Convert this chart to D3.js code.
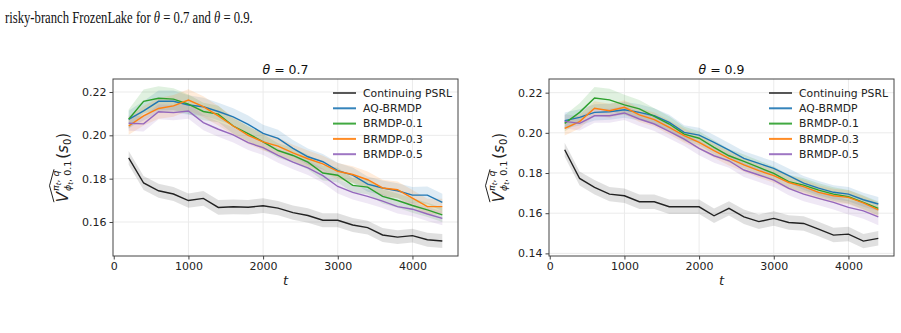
<!DOCTYPE html>
<html>
<head>
<meta charset="utf-8">
<script src="https://cdn.jsdelivr.net/npm/d3@7"></script>
<style>
  body { margin: 0; background: #fff; }
  svg { display: block; }
  .tick text { font-family: "DejaVu Sans", sans-serif; font-size: 11px; fill: #222; }
</style>
</head>
<body>
<svg width="901" height="333"></svg>
<script>
const tValues = [200, 400, 600, 800, 1000, 1200, 1400, 1600, 1800, 2000, 2200,
                 2400, 2600, 2800, 3000, 3200, 3400, 3600, 3800, 4000, 4200, 4400];

const seriesNames = ['Continuing PSRL', 'AQ-BRMDP', 'BRMDP-0.1', 'BRMDP-0.3', 'BRMDP-0.5'];
const seriesColors = ['#222222', '#1f77b4', '#2ca02c', '#ff7f0e', '#9467bd'];

// theta = 0.7
const psrl07 = [0.1896, 0.1780, 0.1744, 0.1729, 0.1699, 0.1709, 0.1667, 0.1670, 0.1668, 0.1675, 0.1664,
                0.1643, 0.1630, 0.1608, 0.1608, 0.1586, 0.1574, 0.1540, 0.1530, 0.1537, 0.1518, 0.1512];
const aq07 = [0.2074, 0.2113, 0.2157, 0.2157, 0.2140, 0.2132, 0.2110, 0.2085, 0.2051, 0.2009, 0.1986,
              0.1940, 0.1901, 0.1878, 0.1837, 0.1816, 0.1775, 0.1757, 0.1744, 0.1724, 0.1724, 0.1690];
const b01_07 = [0.2074, 0.2157, 0.2171, 0.2167, 0.2144, 0.2110, 0.2098, 0.2043, 0.2008, 0.1970, 0.1930,
                0.1907, 0.1876, 0.1826, 0.1816, 0.1769, 0.1761, 0.1718, 0.1699, 0.1676, 0.1656, 0.1633];
const b03_07 = [0.2043, 0.2090, 0.2124, 0.2136, 0.2163, 0.2132, 0.2090, 0.2043, 0.2000, 0.1970, 0.1950,
                0.1919, 0.1892, 0.1868, 0.1834, 0.1819, 0.1795, 0.1757, 0.1749, 0.1710, 0.1671, 0.1671];
const b05_07 = [0.2056, 0.2053, 0.2109, 0.2105, 0.2112, 0.2059, 0.2028, 0.2002, 0.1966, 0.1943, 0.1907,
                0.1876, 0.1850, 0.1814, 0.1764, 0.1737, 0.1718, 0.1696, 0.1671, 0.1659, 0.1637, 0.1617];

const psrl07Err = [0.0032, 0.0032, 0.0032, 0.0032, 0.0033, 0.0034, 0.0034, 0.0034, 0.0034, 0.0034, 0.0033,
                   0.0033, 0.0033, 0.0032, 0.0032, 0.0032, 0.0032, 0.0032, 0.0032, 0.0032, 0.0032, 0.0032];
const aq07Err = [0.0040, 0.0045, 0.0050, 0.0050, 0.0045, 0.0042, 0.0040, 0.0040, 0.0040, 0.0040, 0.0040,
                 0.0038, 0.0038, 0.0036, 0.0036, 0.0035, 0.0035, 0.0035, 0.0035, 0.0038, 0.0040, 0.0040];
const b01_07Err = [0.0045, 0.0055, 0.0055, 0.0050, 0.0045, 0.0040, 0.0038, 0.0036, 0.0035, 0.0035, 0.0034,
                   0.0034, 0.0034, 0.0034, 0.0034, 0.0033, 0.0033, 0.0033, 0.0033, 0.0033, 0.0033, 0.0033];
const b03_07Err = [0.0040, 0.0045, 0.0048, 0.0050, 0.0050, 0.0048, 0.0045, 0.0042, 0.0040, 0.0040, 0.0040,
                   0.0038, 0.0038, 0.0038, 0.0038, 0.0038, 0.0038, 0.0038, 0.0038, 0.0038, 0.0036, 0.0036];
const b05_07Err = [0.0035, 0.0035, 0.0035, 0.0035, 0.0035, 0.0035, 0.0035, 0.0035, 0.0034, 0.0034, 0.0034,
                   0.0033, 0.0033, 0.0033, 0.0033, 0.0033, 0.0033, 0.0032, 0.0032, 0.0032, 0.0032, 0.0032];

// theta = 0.9
const psrl09 = [0.1916, 0.1773, 0.1729, 0.1695, 0.1687, 0.1657, 0.1657, 0.1632, 0.1632, 0.1632, 0.1587,
                0.1624, 0.1582, 0.1558, 0.1574, 0.1554, 0.1549, 0.1521, 0.1491, 0.1496, 0.1461, 0.1475];
const aq09 = [0.2061, 0.2077, 0.2102, 0.2105, 0.2115, 0.2102, 0.2085, 0.2052, 0.2002, 0.1989, 0.1953,
              0.1914, 0.1873, 0.1848, 0.1823, 0.1787, 0.1750, 0.1725, 0.1704, 0.1695, 0.1667, 0.1646];
const b01_09 = [0.2047, 0.2102, 0.2173, 0.2164, 0.2139, 0.2119, 0.2082, 0.2044, 0.1994, 0.1973, 0.1928,
                0.1886, 0.1858, 0.1828, 0.1798, 0.1757, 0.1740, 0.1715, 0.1695, 0.1682, 0.1654, 0.1624];
const b03_09 = [0.2022, 0.2056, 0.2122, 0.2110, 0.2127, 0.2089, 0.2066, 0.2027, 0.1986, 0.1953, 0.1911,
                0.1873, 0.1841, 0.1812, 0.1787, 0.1753, 0.1732, 0.1704, 0.1687, 0.1679, 0.1651, 0.1617];
const b05_09 = [0.2057, 0.2047, 0.2085, 0.2085, 0.2099, 0.2069, 0.2044, 0.2007, 0.1969, 0.1923, 0.1886,
                0.1861, 0.1815, 0.1790, 0.1765, 0.1724, 0.1695, 0.1674, 0.1654, 0.1629, 0.1612, 0.1582];

const psrl09Err = [0.0035, 0.0035, 0.0036, 0.0036, 0.0036, 0.0036, 0.0036, 0.0036, 0.0036, 0.0036, 0.0036,
                   0.0036, 0.0036, 0.0036, 0.0036, 0.0036, 0.0036, 0.0036, 0.0036, 0.0036, 0.0036, 0.0036];
const aq09Err = [0.0040, 0.0040, 0.0040, 0.0040, 0.0040, 0.0040, 0.0038, 0.0038, 0.0036, 0.0036, 0.0036,
                 0.0035, 0.0035, 0.0035, 0.0035, 0.0035, 0.0035, 0.0035, 0.0035, 0.0035, 0.0035, 0.0035];
const b01_09Err = [0.0040, 0.0045, 0.0055, 0.0055, 0.0050, 0.0045, 0.0040, 0.0038, 0.0036, 0.0035, 0.0035,
                   0.0034, 0.0034, 0.0034, 0.0034, 0.0034, 0.0034, 0.0034, 0.0034, 0.0034, 0.0034, 0.0034];
const b03_09Err = [0.0035, 0.0035, 0.0035, 0.0035, 0.0035, 0.0035, 0.0035, 0.0035, 0.0035, 0.0035, 0.0035,
                   0.0035, 0.0035, 0.0035, 0.0035, 0.0035, 0.0035, 0.0035, 0.0035, 0.0035, 0.0035, 0.0035];
const b05_09Err = [0.0035, 0.0035, 0.0035, 0.0035, 0.0035, 0.0035, 0.0035, 0.0035, 0.0035, 0.0035, 0.0035,
                   0.0035, 0.0035, 0.0035, 0.0035, 0.0035, 0.0035, 0.0035, 0.0035, 0.0035, 0.0040, 0.0042];

const xTicks = [0, 1000, 2000, 3000, 4000];
const yTicks07 = [0.16, 0.18, 0.20, 0.22];
const yTicks09 = [0.14, 0.16, 0.18, 0.20, 0.22];

const svg = d3.select('svg');
const width = +svg.attr('width');
const height = +svg.attr('height');

// caption line above the figure (narrow serif, squeezed to the reference width)
const caption = svg.append('text')
    .style('font-family', '"Liberation Serif", serif')
    .style('font-size', '16px')
    .attr('fill', '#111')
    .html('risky-branch FrozenLake for <tspan font-style="italic">θ</tspan> = 0.7 and <tspan font-style="italic">θ</tspan> = 0.9.');
const capW = caption.node().getComputedTextLength();
caption.attr('transform', `translate(5, 23) scale(${248 / capW}, 1)`);

const drawYLabel = (g, x, y) => {
    const lab = g.append('g').attr('transform', `translate(${x}, ${y}) rotate(-90)`);
    const font = '"DejaVu Sans", sans-serif';
    const v = lab.append('text')
        .style('font-family', font).style('font-size', '15px').style('font-style', 'italic')
        .attr('fill', '#222').text('V');
    const wV = v.node().getComputedTextLength();
    const sup = lab.append('text')
        .attr('x', wV + 1).attr('y', -9)
        .style('font-family', font).style('font-size', '9.5px').attr('fill', '#222');
    sup.append('tspan').style('font-style', 'italic').text('π');
    sup.append('tspan').style('font-style', 'italic').style('font-size', '7px').attr('dy', 2).text('t');
    sup.append('tspan').attr('dy', -2).text(', ');
    sup.append('tspan').style('font-style', 'italic').text('q');
    const sub = lab.append('text')
        .attr('x', wV + 1).attr('y', 3)
        .style('font-family', font).style('font-size', '9.5px').attr('fill', '#222');
    sub.append('tspan').style('font-style', 'italic').text('ϕ');
    sub.append('tspan').style('font-style', 'italic').style('font-size', '7px').attr('dy', 2).text('t');
    sub.append('tspan').attr('dy', -2).text(', 0.1');
    const wS = Math.max(sup.node().getComputedTextLength(), sub.node().getComputedTextLength());
    const tail = lab.append('text')
        .attr('x', wV + wS + 3)
        .style('font-family', font).style('font-size', '15px').attr('fill', '#222');
    tail.append('tspan').text('(');
    tail.append('tspan').style('font-style', 'italic').text('s');
    tail.append('tspan').style('font-size', '10px').attr('dy', 3).text('0');
    tail.append('tspan').attr('dy', -3).text(')');
    const total = wV + wS + 3 + tail.node().getComputedTextLength();
    // wide hat over V and its superscript
    const hw = wV + wS * 0.75;
    lab.append('path')
        .attr('d', `M0,-14 L${hw / 2},-18.5 L${hw},-14`)
        .attr('fill', 'none').attr('stroke', '#222').attr('stroke-width', 1);
    lab.selectAll('text, path').attr('transform', `translate(${-total / 2}, 0)`);
};

const render = (opts) => {
    const { left, top, w, h, yDomain, yTicks, series, errs, title } = opts;

    const xScale = d3.scaleLinear().domain([-10, 4610]).range([0, w]);
    const yScale = d3.scaleLinear().domain(yDomain).range([h, 0]);

    const g = svg.append('g').attr('transform', `translate(${left}, ${top})`);

    // grid
    g.append('g').selectAll('line').data(xTicks.filter(d => d > 0)).join('line')
        .attr('x1', d => xScale(d)).attr('x2', d => xScale(d))
        .attr('y1', 0).attr('y2', h)
        .attr('stroke', '#ebebeb').attr('stroke-width', 1);
    g.append('g').selectAll('line').data(yTicks).join('line')
        .attr('y1', d => yScale(d)).attr('y2', d => yScale(d))
        .attr('x1', 0).attr('x2', w)
        .attr('stroke', '#ebebeb').attr('stroke-width', 1);

    const area = d3.area()
        .x(d => xScale(d.t))
        .y0(d => yScale(d.v - d.e))
        .y1(d => yScale(d.v + d.e));
    const line = d3.line()
        .x(d => xScale(d.t))
        .y(d => yScale(d.v));

    const rows = series.map((vals, i) => vals.map((v, j) => ({ t: tValues[j], v, e: errs[i][j] })));

    rows.forEach((r, i) => {
        g.append('path')
            .attr('d', area(r))
            .attr('fill', i === 0 ? '#000' : seriesColors[i])
            .attr('fill-opacity', i === 0 ? 0.12 : 0.15)
            .attr('stroke', 'none');
    });
    rows.forEach((r, i) => {
        g.append('path')
            .attr('d', line(r))
            .attr('fill', 'none')
            .attr('stroke', seriesColors[i])
            .attr('stroke-width', 1.4);
    });

    const xAxisG = g.append('g')
        .attr('transform', `translate(0, ${h})`)
        .call(d3.axisBottom(xScale).tickValues(xTicks).tickSize(3.5).tickPadding(3).tickFormat(d3.format('d')));
    const yAxisG = g.append('g')
        .call(d3.axisLeft(yScale).tickValues(yTicks).tickSize(3.5).tickPadding(3).tickFormat(d3.format('.2f')));
    [xAxisG, yAxisG].forEach(a => {
        a.select('.domain').remove();
        a.selectAll('.tick line').attr('stroke', '#444');
    });

    g.append('rect')
        .attr('width', w).attr('height', h)
        .attr('fill', 'none').attr('stroke', '#444').attr('stroke-width', 1);

    // title
    g.append('text')
        .attr('x', w / 2).attr('y', -5)
        .attr('text-anchor', 'middle')
        .style('font-family', '"DejaVu Sans", sans-serif').style('font-size', '12.5px')
        .attr('fill', '#111')
        .html(`<tspan font-style="italic">θ</tspan> = ${title}`);

    // x label
    g.append('text')
        .attr('x', w / 2).attr('y', h + 29)
        .attr('text-anchor', 'middle')
        .style('font-family', '"DejaVu Sans", sans-serif').style('font-size', '13px')
        .style('font-style', 'italic').attr('fill', '#222')
        .text('t');

    drawYLabel(g, -45, h / 2);

    // legend
    const leg = g.append('g').attr('transform', `translate(${w - 125}, 14)`);
    seriesNames.forEach((name, i) => {
        const row = leg.append('g').attr('transform', `translate(0, ${i * 15.3})`);
        row.append('line')
            .attr('x1', 0).attr('x2', 23)
            .attr('stroke', seriesColors[i]).attr('stroke-width', 2)
            .attr('stroke-opacity', i === 0 ? 0.75 : 0.9);
        row.append('text')
            .attr('x', 30).attr('y', 0).attr('dy', '0.35em')
            .style('font-family', '"DejaVu Sans", sans-serif').style('font-size', '10.8px')
            .attr('fill', '#222')
            .text(name);
    });
};

render({
    left: 113, top: 79, w: 345, h: 177,
    yDomain: [0.1443, 0.2260], yTicks: yTicks07,
    series: [psrl07, aq07, b01_07, b03_07, b05_07],
    errs: [psrl07Err, aq07Err, b01_07Err, b03_07Err, b05_07Err],
    title: '0.7'
});

render({
    left: 549, top: 79, w: 345, h: 177,
    yDomain: [0.1387, 0.2268], yTicks: yTicks09,
    series: [psrl09, aq09, b01_09, b03_09, b05_09],
    errs: [psrl09Err, aq09Err, b01_09Err, b03_09Err, b05_09Err],
    title: '0.9'
});
</script>
</body>
</html>
